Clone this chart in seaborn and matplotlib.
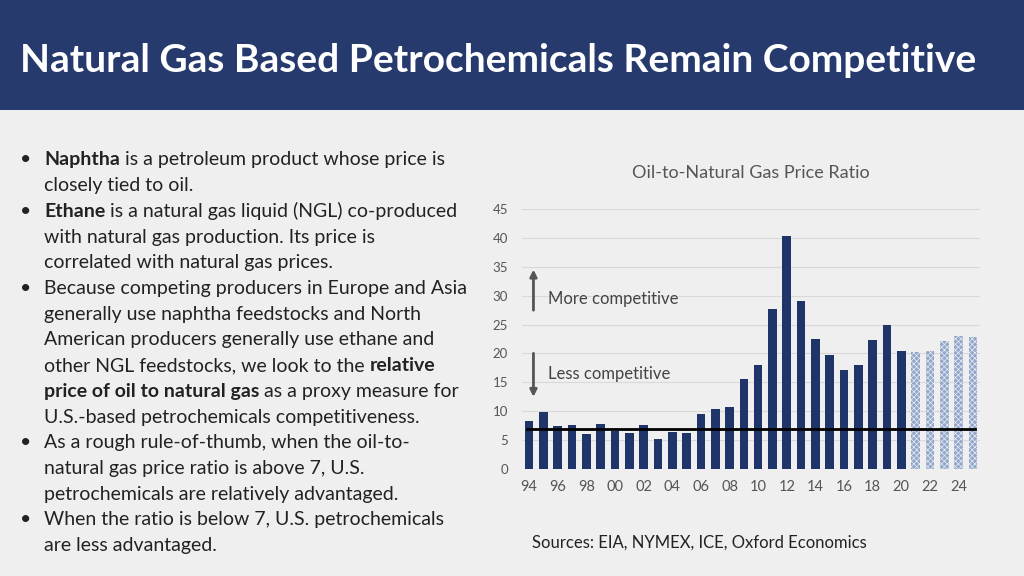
import numpy as np
import pandas as pd
import matplotlib.pyplot as plt
import seaborn as sns

plt.rcParams['font.family'] = 'Lato'
plt.rcParams['hatch.color'] = '#e8edf5'
plt.rcParams['hatch.linewidth'] = 0.5

years = list(range(1994, 2026))
ratio = [8.3, 9.8, 7.4, 7.6, 6.1, 7.8, 6.6, 6.2, 7.6, 5.2, 6.4, 6.2, 9.6, 10.3, 10.8,
         15.6, 18.0, 27.7, 40.4, 29.0, 22.5, 19.8, 17.2, 18.0, 22.3, 25.0, 20.5,
         20.3, 20.4, 22.1, 23.0, 22.8]
forecast_from = 2021
threshold = 7
yticks = [0, 5, 10, 15, 20, 25, 30, 35, 40, 45]

df = pd.DataFrame({'year': years, 'ratio': ratio})
df['lab'] = [f'{y % 100:02d}' for y in years]

fig = plt.figure(figsize=(10.24, 5.76), dpi=100)
fig.patch.set_facecolor('#efefef')

# header band
fig.patches.append(plt.Rectangle((0, 1 - 110 / 576), 1, 110 / 576, transform=fig.transFigure,
                                 facecolor='#263a6e', zorder=0))
fig.text(20 / 1024, 1 - 60 / 576, 'Natural Gas Based Petrochemicals Remain Competitive',
         color='white', fontsize=28, fontweight='bold', va='center')

# bullet text with mixed bold segments
lines = [
    ('•', [('Naphtha', 'bold'), (' is a petroleum product whose price is', 'normal')]),
    ('', [('closely tied to oil.', 'normal')]),
    ('•', [('Ethane', 'bold'), (' is a natural gas liquid (NGL) co-produced', 'normal')]),
    ('', [('with natural gas production. Its price is', 'normal')]),
    ('', [('correlated with natural gas prices.', 'normal')]),
    ('•', [('Because competing producers in Europe and Asia', 'normal')]),
    ('', [('generally use naphtha feedstocks and North', 'normal')]),
    ('', [('American producers generally use ethane and', 'normal')]),
    ('', [('other NGL feedstocks, we look to the ', 'normal'), ('relative', 'bold')]),
    ('', [('price of oil to natural gas', 'bold'), (' as a proxy measure for', 'normal')]),
    ('', [('U.S.-based petrochemicals competitiveness.', 'normal')]),
    ('•', [('As a rough rule-of-thumb, when the oil-to-', 'normal')]),
    ('', [('natural gas price ratio is above 7, U.S.', 'normal')]),
    ('', [('petrochemicals are relatively advantaged.', 'normal')]),
    ('•', [('When the ratio is below 7, U.S. petrochemicals', 'normal')]),
    ('', [('are less advantaged.', 'normal')]),
]
renderer = fig.canvas.get_renderer()
y0, dy = 160, 25.7
for i, (bullet, segs) in enumerate(lines):
    yf = 1 - (y0 + i * dy) / 576
    if bullet:
        fig.text(20 / 1024, yf, bullet, fontsize=14, va='center', color='#222222')
    x = 44 / 1024
    for txt, w in segs:
        t = fig.text(x, yf, txt, fontsize=14, fontweight=w, va='center', color='#222222')
        bb = t.get_window_extent(renderer)
        x += bb.width / fig.bbox.width

# chart
ax = fig.add_axes([522 / 1024, 1 - 469 / 576, 458 / 1024, 260 / 576])
ax.set_facecolor('none')
sns.barplot(data=df, x='lab', y='ratio', color='#1f3469', width=0.6, saturation=1, ax=ax)
for bar, yr in zip(ax.patches, years):
    if yr >= forecast_from:
        bar.set_facecolor('#92a7c9')
        bar.set_hatch('xxxxxx')
        bar.set_edgecolor('#e8edf5')
        bar.set_linewidth(0)
ax.axhline(threshold, color='black', lw=2, xmin=0.01, xmax=0.99)
ax.set_ylim(0, 45)
ax.set_yticks(yticks)
ax.set_xticks(range(0, len(years), 2))
ax.set_xticklabels(df['lab'][::2])
ax.set_xlabel('')
ax.set_ylabel('')
ax.grid(axis='y', color='#d9d9d9', lw=0.8)
ax.set_axisbelow(True)
for s in ax.spines.values():
    s.set_visible(False)
ax.tick_params(length=0, labelsize=10.5, colors='#555555')
ax.tick_params(axis='x', pad=8)
ax.tick_params(axis='y', labelsize=9.5, pad=10)
ax.set_title('Oil-to-Natural Gas Price Ratio', fontsize=13, color='#555555', pad=22)

ax.annotate('', xy=(0.3, 35), xytext=(0.3, 27), arrowprops=dict(arrowstyle='-|>', color='#555555', lw=2))
ax.annotate('', xy=(0.3, 12), xytext=(0.3, 20.5), arrowprops=dict(arrowstyle='-|>', color='#555555', lw=2))
ax.text(1.3, 29.5, 'More competitive', fontsize=12, color='#444444', va='center')
ax.text(1.3, 16.5, 'Less competitive', fontsize=12, color='#444444', va='center')

fig.text(532 / 1024, 1 - 543 / 576, 'Sources: EIA, NYMEX, ICE, Oxford Economics', fontsize=12,
         va='center', color='#222222')

plt.savefig('out.png', dpi=100)
